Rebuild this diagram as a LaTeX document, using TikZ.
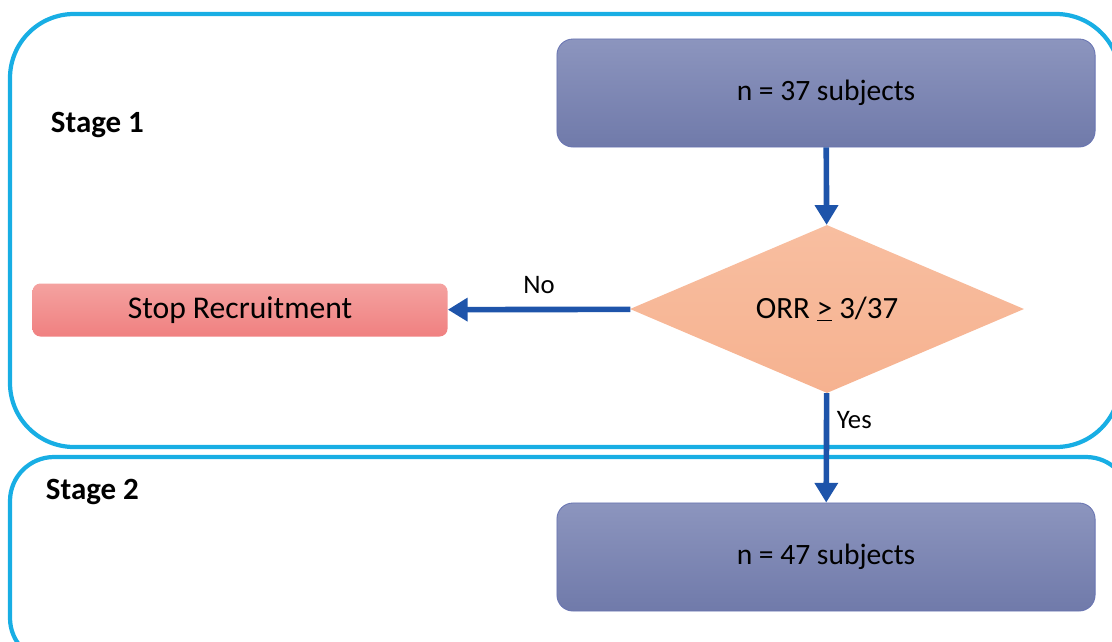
\documentclass[tikz,border=0pt]{standalone}
\usepackage{fontspec}
\setmainfont{Carlito}
\usepackage{tikz}
\usetikzlibrary{shapes,arrows,arrows.meta,positioning}

\definecolor{stageblue}{RGB}{24,174,228}
\definecolor{flowblue}{RGB}{30,84,170}
\definecolor{subjtop}{RGB}{140,149,190}
\definecolor{subjbot}{RGB}{112,122,170}
\definecolor{subjline}{RGB}{104,116,178}
\definecolor{stoptop}{RGB}{244,162,160}
\definecolor{stopbot}{RGB}{240,128,128}
\definecolor{orrtop}{RGB}{248,190,160}
\definecolor{orrbot}{RGB}{246,178,144}

\begin{document}
\begin{tikzpicture}[x=0.025cm,y=-0.025cm]
      \tikzstyle{stage} = [draw=stageblue, line width=3pt]
      \tikzstyle{label} = [font=\fontsize{22}{26}\selectfont\bfseries, anchor=west]
      \tikzstyle{box} = [rectangle, rounded corners=0.4cm, draw=subjline, semithick,
                         top color=subjtop, bottom color=subjbot,
                         minimum width=13.45cm, minimum height=2.7cm,
                         font=\fontsize{21}{26}\selectfont]
      \tikzstyle{stop} = [rectangle, rounded corners=0.2cm, top color=stoptop, bottom color=stopbot,
                          minimum width=10.375cm, minimum height=1.325cm,
                          font=\fontsize{22.5}{26}\selectfont]
      \tikzstyle{test} = [diamond, top color=orrtop, bottom color=orrbot, inner sep=0pt,
                          aspect=2.35, minimum width=9.85cm, minimum height=4.2cm,
                          font=\fontsize{22}{26}\selectfont]
      \tikzstyle{flow} = [line width=4pt, draw=flowblue, -{Triangle[length=14pt,width=16pt]}]
      \tikzstyle{tag} = [font=\fontsize{19}{22}\selectfont]
      \useasboundingbox (0,0) rectangle (1112,641);
      % stage frames
      \draw [stage, rounded corners=1.6cm] (10,14) rectangle (1120,447);
      \draw [stage, rounded corners=1.1cm] (10,457) rectangle (1130,662);
      \node (s1) [label] at (46,125) {Stage 1};
      \node (s2) [label] at (41,492) {Stage 2};
      % flow
      \node (n37) [box] at (826,93) {n = 37 subjects};
      \node (orr) [test] at (827,309) {ORR \underline{>} 3/37};
      \node (halt) [stop] at (240,310) {Stop Recruitment};
      \node (n47) [box] at (826,557) {n = 47 subjects};
      \draw [flow] (n37)--(orr);
      \draw [flow] (orr)--node[tag, pos=0.5, above=6pt]{No} (halt);
      \draw [flow] (orr)--node[tag, pos=0.25, right=2pt]{Yes} (n47);
    \end{tikzpicture}
\end{document}
